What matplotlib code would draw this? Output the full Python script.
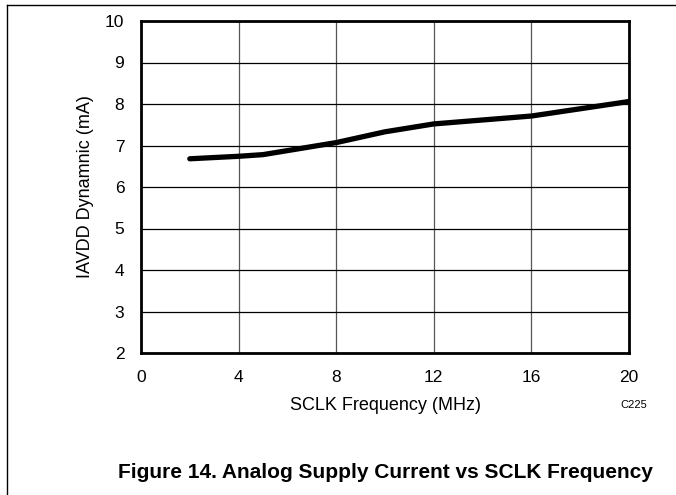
import matplotlib
matplotlib.use('Agg')
from matplotlib import pyplot as plt
from matplotlib.lines import Line2D

plt.rcParams['font.family'] = ['Liberation Sans', 'DejaVu Sans']

# values
sclk_mhz = [2, 4, 5, 8, 10, 12, 16, 20]
iavdd_ma = [6.68, 6.74, 6.78, 7.07, 7.33, 7.52, 7.71, 8.06]

x_ticks = [0, 4, 8, 12, 16, 20]
y_ticks = [2, 3, 4, 5, 6, 7, 8, 9, 10]

fig = plt.figure(figsize=(6.76, 4.95), dpi=100)
ax = fig.add_axes([141 / 676, 1 - 353 / 495, (629 - 141) / 676, (353 - 21) / 495])

ax.plot(sclk_mhz, iavdd_ma, color='black', linewidth=3.8, solid_capstyle='round', zorder=3)

ax.set_xlim(0, 20)
ax.set_ylim(2, 10)
ax.set_xticks(x_ticks)
ax.set_yticks(y_ticks)
ax.tick_params(length=0, labelsize=12.5)
ax.tick_params(axis='x', pad=12)
ax.tick_params(axis='y', pad=12)
ax.grid(True, color='black', linewidth=0.9)
for gl in ax.get_xgridlines():
    gl.set_color('#555555')
for s in ax.spines.values():
    s.set_linewidth(2)
    s.set_zorder(4)

ax.set_xlabel('SCLK Frequency (MHz)', fontsize=13, labelpad=9)
ax.set_ylabel('IAVDD Dynamnic (mA)', fontsize=13, labelpad=8)

fig.text(634 / 676, 1 - 405 / 495, 'C225', fontsize=8, ha='center', va='center')
fig.text(385 / 676, 1 - 472 / 495, 'Figure 14. Analog Supply Current vs SCLK Frequency',
         fontsize=15, fontweight='bold', ha='center', va='center')

# page frame (top and left rule)
fig.add_artist(Line2D([7 / 676, 1], [1 - 5 / 495, 1 - 5 / 495], transform=fig.transFigure, color='black', linewidth=1))
fig.add_artist(Line2D([7 / 676, 7 / 676], [0, 1 - 5 / 495], transform=fig.transFigure, color='black', linewidth=1))

fig.savefig('out.png', dpi=100)
